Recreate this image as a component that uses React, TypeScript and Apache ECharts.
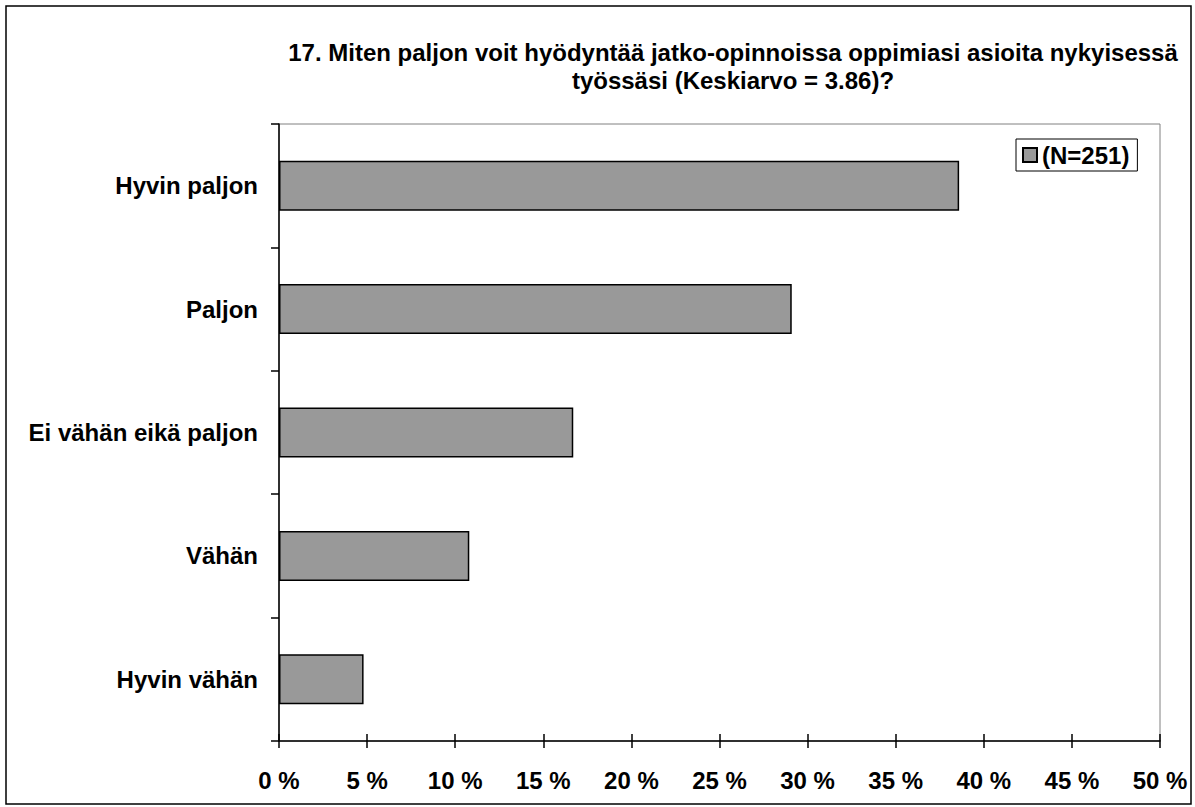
import React, { useEffect, useRef } from "react";
import * as echarts from "echarts";

const categories = ["Hyvin paljon", "Paljon", "Ei vähän eikä paljon", "Vähän", "Hyvin vähän"];
const values = [38.6, 29.1, 16.7, 10.8, 4.8];
const seriesName = "(N=251)";
const titleText = "17. Miten paljon voit hyödyntää jatko-opinnoissa oppimiasi asioita nykyisessä\ntyössäsi (Keskiarvo = 3.86)?";

const FONT = "Liberation Sans, Arial, sans-serif";

export default function App() {
  const ref = useRef<HTMLDivElement>(null);
  useEffect(() => {
    document.body.style.margin = "0";
    const chart = echarts.init(ref.current!, null, { renderer: "svg" });
    chart.setOption({
      animation: false,
      backgroundColor: "#ffffff",
      textStyle: { fontFamily: FONT },
      title: {
        text: titleText,
        left: 728,
        top: 33,
        textAlign: "center",
        textStyle: { fontFamily: FONT, fontSize: 24, fontWeight: "bold", color: "#000", lineHeight: 28 },
      },
      legend: {
        show: true,
        left: 1016,
        top: 139,
        orient: "vertical",
        icon: "rect",
        itemWidth: 14,
        itemHeight: 14,
        itemGap: 4,
        padding: [4, 8, 4, 6],
        borderColor: "#000",
        borderWidth: 1,
        textStyle: { fontFamily: FONT, fontSize: 24, fontWeight: "bold", color: "#000", padding: [0, 0, 0, 0] },
        data: [seriesName],
      },
      graphic: [
        {
          type: "rect",
          shape: { x: 6, y: 6, width: 1185, height: 798 },
          style: { fill: "none", stroke: "#000", lineWidth: 1.5 },
          silent: true,
        },
      ],
      grid: {
        left: 279,
        right: 35,
        top: 124,
        bottom: 66,
        show: true,
        borderColor: "#808080",
        borderWidth: 1,
        backgroundColor: "transparent",
      },
      xAxis: [
        {
          type: "value",
          min: 0,
          max: 50,
          interval: 5,
          axisLine: { show: true, lineStyle: { color: "#000", width: 1.5 } },
          axisTick: { show: true, length: 7, lineStyle: { color: "#000", width: 1.5 } },
          splitLine: { show: false },
          axisLabel: {
            margin: 27,
            fontFamily: FONT,
            fontSize: 24,
            fontWeight: "bold",
            color: "#000",
            formatter: "{value} %",
          },
        },
        {
          type: "value",
          position: "bottom",
          min: 0,
          max: 50,
          interval: 5,
          axisLine: { show: false },
          axisTick: { show: true, inside: true, length: 7, lineStyle: { color: "#000", width: 1.5 } },
          splitLine: { show: false },
          axisLabel: { show: false },
        },
      ],
      yAxis: {
        type: "category",
        data: categories,
        inverse: true,
        axisLine: { show: true, lineStyle: { color: "#000", width: 1.5 } },
        axisTick: { show: true, length: 8, lineStyle: { color: "#000", width: 1.5 } },
        axisLabel: {
          margin: 21,
          fontFamily: FONT,
          fontSize: 24,
          fontWeight: "bold",
          color: "#000",
        },
      },
      series: [
        {
          name: seriesName,
          type: "bar",
          data: values,
          barWidth: 50,
          itemStyle: { color: "#999999", borderColor: "#000", borderWidth: 1.5 },
        },
      ],
    });
    return () => chart.dispose();
  }, []);
  return <div ref={ref} style={{ width: 1195, height: 807 }} />;
}
